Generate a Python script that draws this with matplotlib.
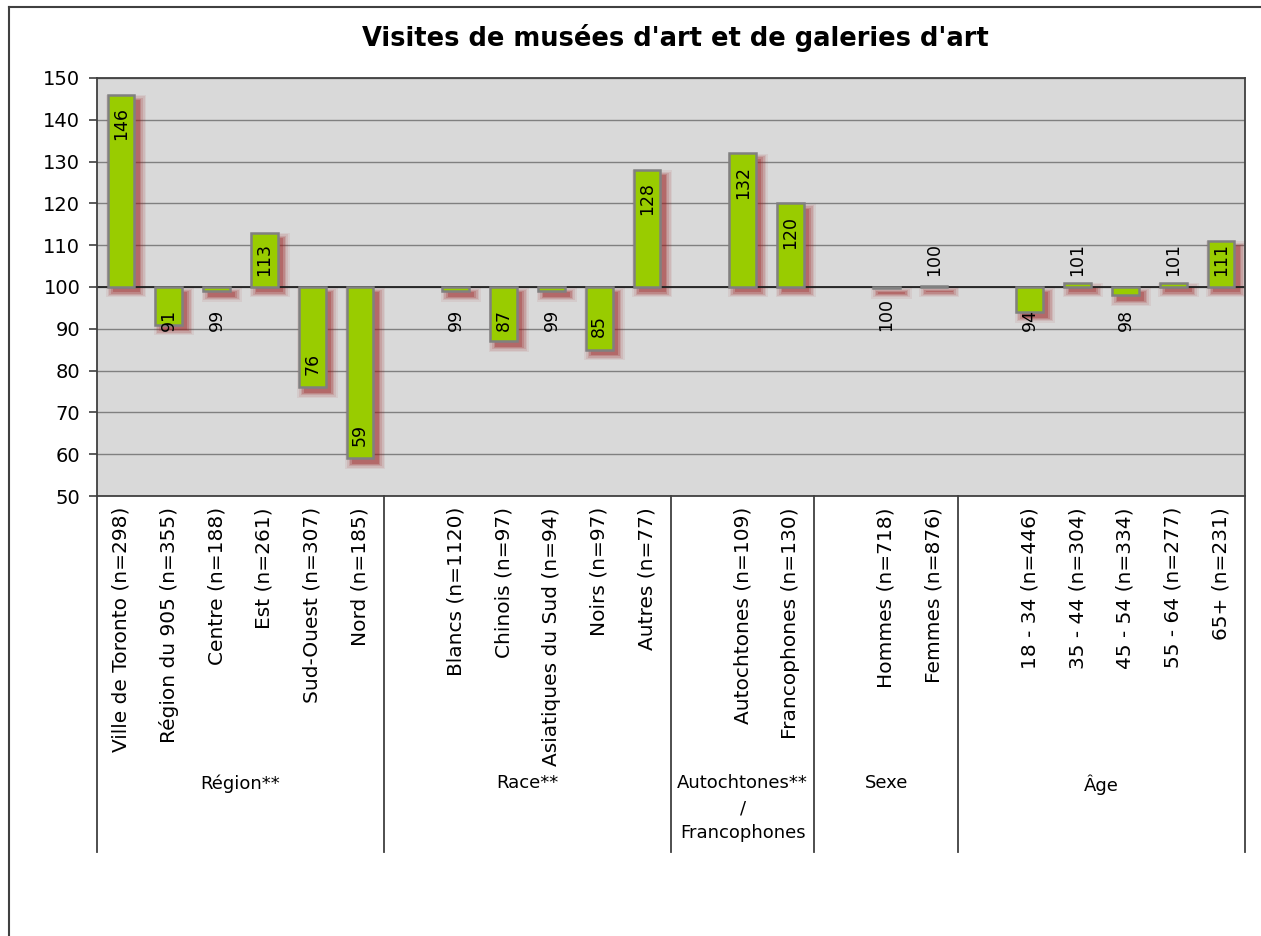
import numpy as np
import matplotlib
matplotlib.use("Agg")
import matplotlib.pyplot as plt
from matplotlib.lines import Line2D
import matplotlib.transforms as mtransforms

# ── data ───────────────────────────────────────────────────────────────────
region_labels = ["Ville de Toronto (n=298)", "Région du 905 (n=355)", "Centre (n=188)",
                 "Est (n=261)", "Sud-Ouest (n=307)", "Nord (n=185)"]
region_values = [146, 91, 99, 113, 76, 59]

race_labels = ["Blancs (n=1120)", "Chinois (n=97)", "Asiatiques du Sud (n=94)",
               "Noirs (n=97)", "Autres (n=77)"]
race_values = [99, 87, 99, 85, 128]

autoch_labels = ["Autochtones (n=109)", "Francophones (n=130)"]
autoch_values = [132, 120]

sexe_labels = ["Hommes (n=718)", "Femmes (n=876)"]
sexe_values = [99.7, 100.3]

age_labels = ["18 - 34 (n=446)", "35 - 44 (n=304)", "45 - 54 (n=334)",
              "55 - 64 (n=277)", "65+ (n=231)"]
age_values = [94, 101, 98, 101, 111]

group_names = ["Région**", "Race**", "Autochtones**\n/\nFrancophones", "Sexe", "Âge"]

BASE = 100

# ── colours ────────────────────────────────────────────────────────────────
C_BAR = "#99CC00"
C_EDGE = "#808080"
C_BG = "#D9D9D9"
C_GRID = "#808080"
C_AXIS = "#404040"
C_SHADOW = "#9A1C1C"

plt.rcParams["font.family"] = "DejaVu Sans"

# slot layout: a blank slot opens every group except the first
groups = [(region_labels, region_values), (race_labels, race_values),
          (autoch_labels, autoch_values), (sexe_labels, sexe_values),
          (age_labels, age_values)]
labels, values, bounds = [], [], [-0.5]
for gi, (lab, val) in enumerate(groups):
    if gi > 0:
        labels.append("")
        values.append(np.nan)
    labels.extend(lab)
    values.extend(val)
    bounds.append(len(labels) - 0.5)
values = np.array(values, dtype=float)
x = np.arange(len(labels))

# ── figure ─────────────────────────────────────────────────────────────────
W, H = 1261, 936
fig = plt.figure(figsize=(W / 100, H / 100), dpi=100)
ax = fig.add_axes([97 / W, 1 - 496 / H, (1245 - 97) / W, (496 - 78) / H])
ax.set_facecolor(C_BG)
ax.set_xlim(-0.5, len(labels) - 0.5)
ax.set_ylim(50, 150)
ax.set_yticks(np.arange(50, 151, 10))
ax.yaxis.grid(True, color=C_GRID, lw=1.0)
ax.set_axisbelow(True)

heights = values - BASE
bw = 0.56

# soft red shadow, offset right/down (stacked layers fake a blur)
lo = np.minimum(values, BASE)
hi = np.maximum(values, BASE)
for k, a in enumerate([0.07, 0.10, 0.14, 0.20, 0.28]):
    gx = 0.035 * (4 - k)
    gy = 0.3 * (4 - k)
    ax.bar(x + 0.11, (hi - lo) + 2 * gy, bottom=lo - 1.3 - gy, width=bw + 2 * gx,
           color=C_SHADOW, alpha=a, lw=0, zorder=1.5)

ax.axhline(BASE, color="#202020", lw=1.3, zorder=2)
ax.bar(x, heights, bottom=BASE, width=bw, color=C_BAR, edgecolor=C_EDGE,
       lw=1.8, zorder=3)

# value labels: inside end, pushed out from the baseline when the bar is short
pad, gap, tlen = 3.0, 3.8, 6.7
for xi, v in zip(x, values):
    if np.isnan(v):
        continue
    d = v - BASE
    far = max(abs(d) - pad, gap + tlen)
    if d >= 0:
        ax.text(xi, BASE + far, f"{v:.0f}", rotation=90, ha="center", va="top",
                fontsize=12.5, zorder=4)
    else:
        ax.text(xi, BASE - far, f"{v:.0f}", rotation=90, ha="center", va="bottom",
                fontsize=12.5, zorder=4)

# axes styling
for s in ax.spines.values():
    s.set_color(C_AXIS)
    s.set_linewidth(1.3)
ax.tick_params(axis="y", direction="out", length=6, width=1.2, color=C_AXIS,
               labelsize=14, pad=6)
ax.set_xticks(x)
ax.set_xticklabels(labels, rotation=90, fontsize=14.5, va="top", ha="center")
ax.tick_params(axis="x", length=0, pad=8)

# group separators and group names below the axis
trans = mtransforms.blended_transform_factory(ax.transData, ax.transAxes)
for b in bounds:
    ax.plot([b, b], [0, -0.852], transform=trans, color=C_AXIS, lw=1.3,
            clip_on=False)
for gi in range(len(group_names)):
    cx = (bounds[gi] + bounds[gi + 1]) / 2
    ax.text(cx, -0.666, group_names[gi], transform=trans, ha="center", va="top",
            fontsize=13, linespacing=1.5)

fig.text(675 / W, 1 - 38 / H, "Visites de musées d'art et de galeries d'art",
         ha="center", va="center", fontsize=18.5, fontweight="bold")

# outer chart frame (left and top edges)
fig.add_artist(Line2D([9 / W, 9 / W], [0, 1 - 7 / H], transform=fig.transFigure,
                      color=C_AXIS, lw=1.5))
fig.add_artist(Line2D([9 / W, 1], [1 - 7 / H, 1 - 7 / H], transform=fig.transFigure,
                      color=C_AXIS, lw=1.5))

fig.savefig("out.png", dpi=100, facecolor="white")
